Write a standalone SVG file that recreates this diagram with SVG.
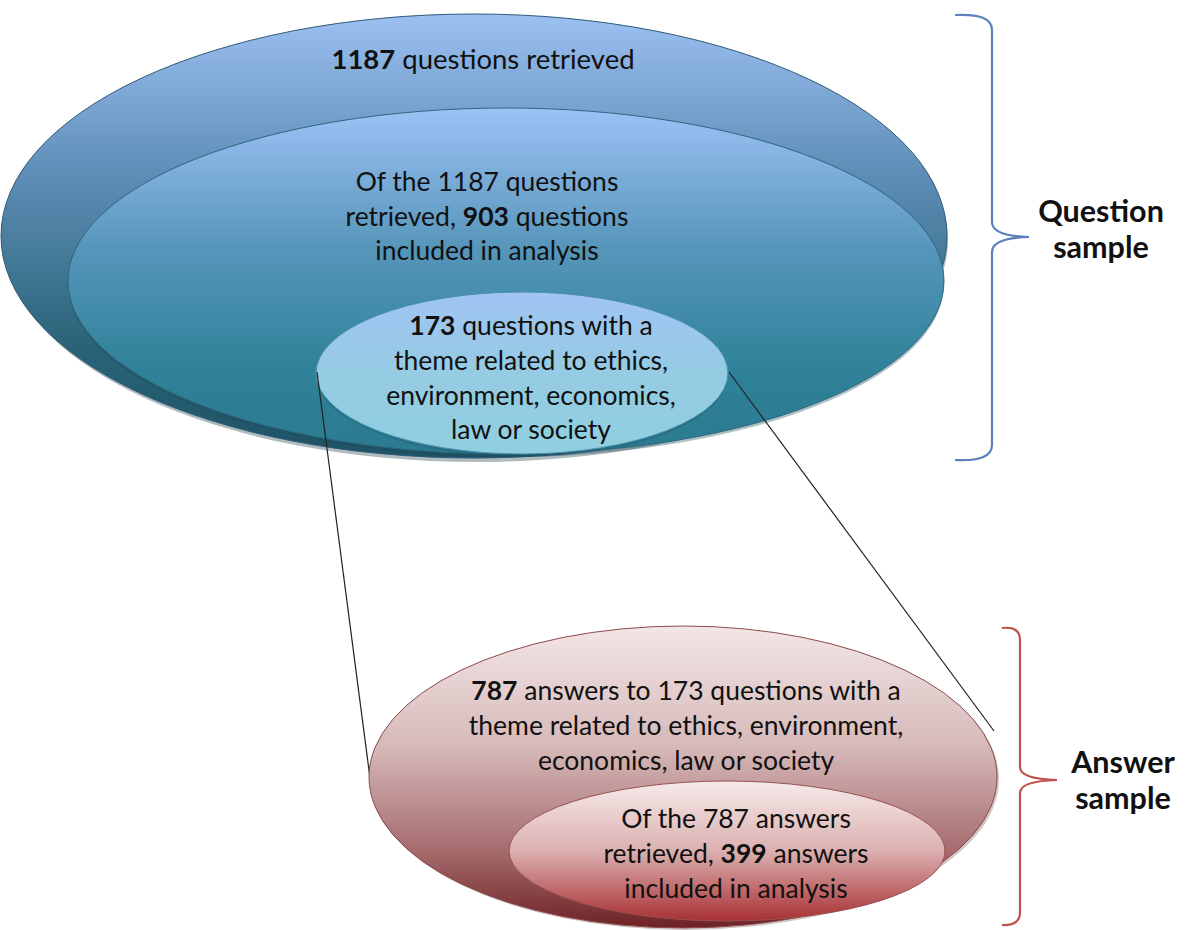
<svg xmlns="http://www.w3.org/2000/svg" width="1186" height="930" viewBox="0 0 1186 930">
<style>
text{font-family:Lato,"Open Sans","Liberation Sans",sans-serif;fill:#111;text-anchor:middle}
.t{font-size:26.5px}
.lbl{font-size:30.5px;font-weight:bold}
.b{font-weight:bold}
.br{fill:none;stroke-width:2.2}
.con{stroke:#222;stroke-width:1.2;fill:none}
</style>
<defs>
<linearGradient id="gOuter" x1="0" y1="0" x2="0" y2="1">
<stop offset="0" stop-color="#9cc0f2"/>
<stop offset="0.35" stop-color="#5f8fb8"/>
<stop offset="0.75" stop-color="#2a6378"/>
<stop offset="1" stop-color="#1f5264"/>
</linearGradient>
<linearGradient id="gMid" x1="0" y1="0" x2="0" y2="1">
<stop offset="0" stop-color="#9dc2f6"/>
<stop offset="0.4" stop-color="#5796bb"/>
<stop offset="0.75" stop-color="#2f8299"/>
<stop offset="1" stop-color="#2b7a90"/>
</linearGradient>
<linearGradient id="gSmall" x1="0" y1="0" x2="0" y2="1">
<stop offset="0" stop-color="#a0c4f4"/>
<stop offset="0.5" stop-color="#95cbe3"/>
<stop offset="1" stop-color="#8fcfe0"/>
</linearGradient>
<linearGradient id="gRed" x1="0" y1="0" x2="0" y2="1">
<stop offset="0" stop-color="#f3e6e6"/>
<stop offset="0.4" stop-color="#d6b9b9"/>
<stop offset="0.75" stop-color="#a56a6c"/>
<stop offset="1" stop-color="#6d2225"/>
</linearGradient>
<linearGradient id="gRed2" x1="0" y1="0" x2="0" y2="1">
<stop offset="0" stop-color="#f6eaea"/>
<stop offset="0.5" stop-color="#dcb0b0"/>
<stop offset="1" stop-color="#a83034"/>
</linearGradient>
</defs>

<g id="question-set">
<ellipse cx="476" cy="240" rx="472" ry="222" fill="#1a3c48" opacity="0.35"/>
<ellipse cx="474" cy="236" rx="473" ry="222" fill="url(#gOuter)" stroke="#2c5a78" stroke-width="1"/>
<text class="t" x="483" y="69" style="font-size:27.5px"><tspan class="b">1187</tspan> questions retrieved</text>
</g>

<g id="included-questions">
<ellipse cx="506" cy="284" rx="438" ry="173" fill="#1a4a58" opacity="0.35"/>
<ellipse cx="506" cy="281" rx="438" ry="173" fill="url(#gMid)" stroke="#2e6680" stroke-width="1"/>
<text class="t" x="487" y="191">Of the 1187 questions</text>
<text class="t" x="487" y="226">retrieved, <tspan class="b">903</tspan> questions</text>
<text class="t" x="487" y="260">included in analysis</text>
</g>

<g id="theme-questions">
<ellipse cx="522" cy="375" rx="206" ry="82" fill="#1d5566" opacity="0.3"/>
<ellipse cx="522" cy="373" rx="206" ry="81" fill="url(#gSmall)" stroke="#4a8eaa" stroke-width="1"/>
<text class="t" x="531" y="335"><tspan class="b">173</tspan> questions with a</text>
<text class="t" x="531" y="370">theme related to ethics,</text>
<text class="t" x="531" y="405">environment, economics,</text>
<text class="t" x="531" y="439">law or society</text>
</g>

<g id="connectors">
<line class="con" x1="317" y1="372" x2="370" y2="778"/>
<line class="con" x1="729" y1="372" x2="994" y2="731"/>
</g>

<g id="answer-set">
<ellipse cx="685" cy="779" rx="314" ry="151" fill="#4a1a1c" opacity="0.25"/>
<ellipse cx="683" cy="777" rx="314" ry="151" fill="url(#gRed)" stroke="#8a4a4c" stroke-width="1"/>
<text class="t" x="686" y="700"><tspan class="b">787</tspan> answers to 173 questions with a</text>
<text class="t" x="686" y="735">theme related to ethics, environment,</text>
<text class="t" x="686" y="770">economics, law or society</text>
</g>

<g id="included-answers">
<ellipse cx="727" cy="851" rx="218" ry="70" fill="url(#gRed2)" stroke="#9a5052" stroke-width="1"/>
<text class="t" x="736" y="828">Of the 787 answers</text>
<text class="t" x="736" y="863">retrieved, <tspan class="b">399</tspan> answers</text>
<text class="t" x="736" y="898">included in analysis</text>
</g>

<g id="question-sample">
<path class="br" stroke="#5b80bd" d="M955,15 Q992,13 992,30 L992,222 Q992,236 1029,237 Q992,238 992,252 L992,445 Q992,462 955,460"/>
<text class="lbl" x="1101" y="222">Question</text>
<text class="lbl" x="1101" y="258">sample</text>
</g>

<g id="answer-sample">
<path class="br" stroke="#c0504d" d="M1002,628 Q1020,626 1020,640 L1020,767 Q1020,779 1057,780 Q1020,781 1020,793 L1020,912 Q1020,926 1002,925"/>
<text class="lbl" x="1123" y="773">Answer</text>
<text class="lbl" x="1123" y="809">sample</text>
</g>
</svg>
